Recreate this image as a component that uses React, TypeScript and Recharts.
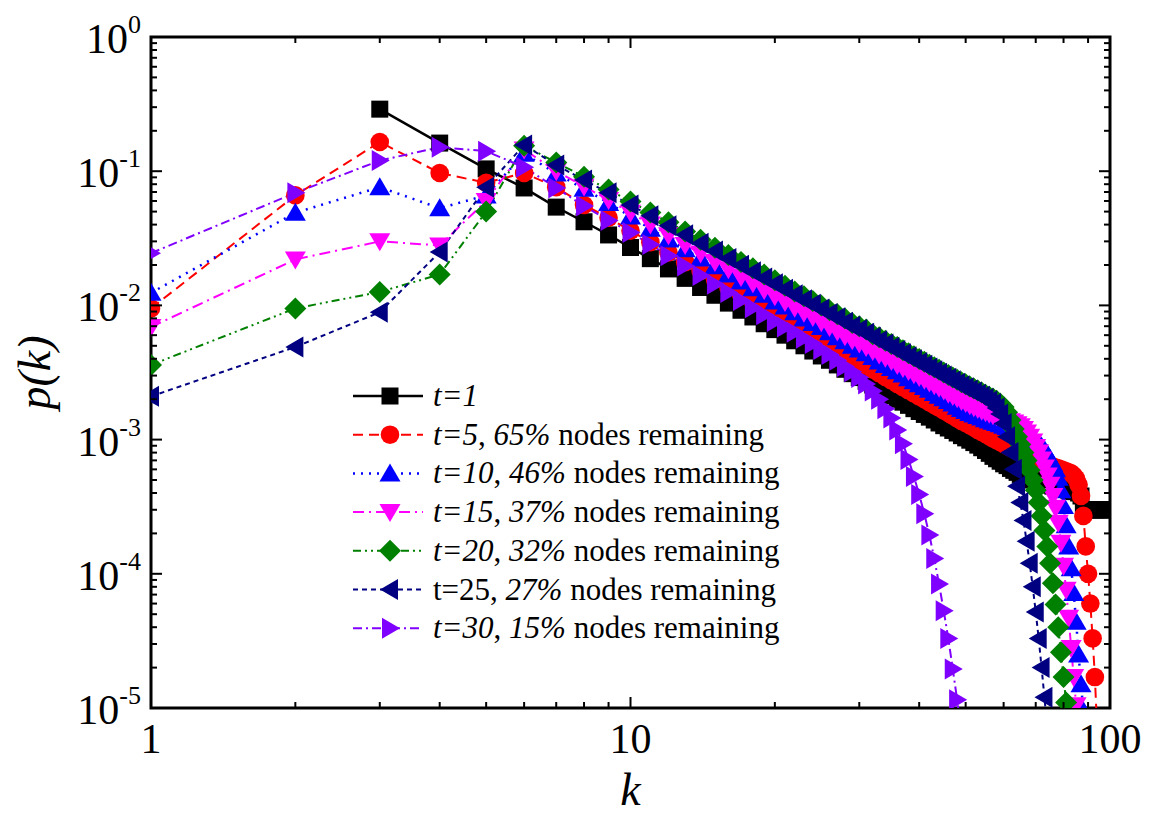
import React from 'react';
import { LineChart, Line, XAxis, YAxis, ReferenceArea, Legend } from 'recharts';

const W = 1150;
const H = 815;
const MARGIN = { top: 37, right: 40, bottom: 47, left: 71 };
const PLOT_TOP = MARGIN.top;
const PLOT_RIGHT = W - MARGIN.right;
const FONT = '"Liberation Serif", "Times New Roman", serif';

// tick positions (k and p(k))
const X_TICKS = [1, 2, 3, 4, 5, 6, 7, 8, 9, 10, 20, 30, 40, 50, 60, 70, 80, 90, 100];
const X_LABELS = [1, 10, 100];
const Y_TICKS = [
  1e-5, 2e-5, 3e-5, 4e-5, 5e-5, 6e-5, 7e-5, 8e-5, 9e-5,
  1e-4, 2e-4, 3e-4, 4e-4, 5e-4, 6e-4, 7e-4, 8e-4, 9e-4,
  1e-3, 2e-3, 3e-3, 4e-3, 5e-3, 6e-3, 7e-3, 8e-3, 9e-3,
  1e-2, 2e-2, 3e-2, 4e-2, 5e-2, 6e-2, 7e-2, 8e-2, 9e-2,
  0.1, 0.2, 0.3, 0.4, 0.5, 0.6, 0.7, 0.8, 0.9, 1,
];
const Y_LABELS = [1e-5, 1e-4, 1e-3, 1e-2, 1e-1, 1];
const Y_EXPONENTS = ['-5', '-4', '-3', '-2', '-1', '0'];

// p(k) for each snapshot, first value is at k = *_START, then k+1, k+2 ...
const T1_START = 3;
const T1 = [
  0.29, 0.162, 0.104, 0.075, 0.054, 0.042, 0.0335, 0.027,
  0.0223, 0.0187, 0.0159, 0.0136, 0.0119, 0.0104, 0.0092, 0.0082, 0.0073, 0.0066,
  0.006, 0.00545, 0.005, 0.00457, 0.0042, 0.0039, 0.0036, 0.00334, 0.0031, 0.0029,
  0.00272, 0.00255, 0.0024, 0.00225, 0.00212, 0.002, 0.0019, 0.0018, 0.0017, 0.00162,
  0.00154, 0.00147, 0.0014, 0.00133, 0.00127, 0.00122, 0.00117, 0.00112, 0.00107, 0.00103,
  0.00099, 0.00095, 0.00091, 0.00087, 0.00083, 0.00079, 0.00075, 0.00072, 0.00069, 0.00066,
  0.00064, 0.00061, 0.00059, 0.00057, 0.00055, 0.00053, 0.00052, 0.00051, 0.0005, 0.00049,
  0.00048, 0.00048, 0.00047, 0.00046, 0.00046, 0.00045, 0.00045, 0.00044, 0.00044, 0.00043,
  0.00043, 0.00042, 0.00042, 0.00041, 0.00041, 0.0004, 0.00038, 0.0003, 0.0003, 0.0003,
  0.0003, 0.0003, 0.0003, 0.0003, 0.0003, 0.0003, 0.0003, 0.0003, 0.0003, 0.0003,
];

const T5_START = 1;
const T5 = [
  0.0095, 0.066, 0.165, 0.097, 0.082, 0.097, 0.076, 0.056, 0.045, 0.036,
  0.0296, 0.0248, 0.021, 0.0181, 0.0157, 0.0137, 0.0121, 0.0108, 0.0097, 0.0087,
  0.0079, 0.00715, 0.0065, 0.006, 0.0055, 0.0051, 0.0047, 0.00436, 0.00406, 0.00379,
  0.00355, 0.00332, 0.00312, 0.00293, 0.00276, 0.0026, 0.00246, 0.00233, 0.00221, 0.0021,
  0.002, 0.0019, 0.00181, 0.00173, 0.00165, 0.00158, 0.00151, 0.00144, 0.00138, 0.00133,
  0.00128, 0.00123, 0.00118, 0.00114, 0.0011, 0.00106, 0.00102, 0.00099, 0.00096, 0.00093,
  0.0009, 0.00087, 0.00085, 0.00082, 0.0008, 0.00078, 0.00076, 0.00074, 0.00072, 0.0007,
  0.00069, 0.00067, 0.00066, 0.00065, 0.00064, 0.00063, 0.00062, 0.00061, 0.0006, 0.00059,
  0.00058, 0.00057, 0.00056, 0.00054, 0.00051, 0.00046, 0.00038, 0.00027, 0.00016, 0.0001,
  0.00006, 0.000033, 0.000017, 0.000007,
];

const T10_START = 1;
const T10 = [
  0.0124, 0.049, 0.076, 0.053, 0.066, 0.135, 0.096, 0.074, 0.058, 0.046,
  0.0372, 0.031, 0.0262, 0.0224, 0.0196, 0.017, 0.0151, 0.0134, 0.012, 0.0107,
  0.0098, 0.0089, 0.008, 0.0074, 0.0069, 0.0063, 0.0058, 0.0054, 0.005, 0.0047,
  0.0044, 0.00412, 0.00382, 0.0036, 0.00341, 0.00323, 0.00306, 0.00286, 0.00272, 0.00259,
  0.00247, 0.00235, 0.00222, 0.00212, 0.00203, 0.00194, 0.00186, 0.00176, 0.00169, 0.00163,
  0.00158, 0.00154, 0.0015, 0.00146, 0.00142, 0.00139, 0.00136, 0.00133, 0.0013, 0.00127,
  0.00124, 0.00121, 0.00118, 0.00115, 0.00112, 0.00109, 0.00106, 0.00103, 0.001, 0.00097,
  0.00093, 0.00089, 0.00084, 0.00078, 0.00072, 0.00066, 0.0006, 0.00052, 0.00042, 0.00032,
  0.00023, 0.00016, 0.00011, 0.000072, 0.000044, 0.000025, 0.000015, 0.0000095,
];

const T15_START = 1;
const T15 = [
  0.0069, 0.022, 0.03, 0.028, 0.06, 0.145, 0.1, 0.077, 0.061, 0.049,
  0.04, 0.0333, 0.0282, 0.0244, 0.0211, 0.0186, 0.0163, 0.0146, 0.013, 0.0117,
  0.0106, 0.0096, 0.0088, 0.0082, 0.0075, 0.0069, 0.0064, 0.0059, 0.0055, 0.0052,
  0.0049, 0.00458, 0.00431, 0.00407, 0.00385, 0.0036, 0.00341, 0.00324, 0.00307, 0.00293,
  0.00279, 0.00266, 0.00254, 0.00243, 0.00232, 0.0022, 0.00211, 0.00203, 0.00194, 0.00187,
  0.0018, 0.00174, 0.00169, 0.00164, 0.0016, 0.00156, 0.00152, 0.00149, 0.00146, 0.00143,
  0.0014, 0.00137, 0.00134, 0.0013, 0.00126, 0.0012, 0.00113, 0.00105, 0.00097, 0.00088,
  0.0008, 0.00071, 0.00062, 0.00054, 0.00046, 0.00038, 0.00031, 0.00024, 0.00017, 0.000115,
  0.000076, 0.000047, 0.000028, 0.000017, 0.0000105, 0.000006,
];

const T20_START = 1;
const T20 = [
  0.0036, 0.0095, 0.0126, 0.017, 0.05, 0.155, 0.116, 0.091, 0.073, 0.0594,
  0.0493, 0.0416, 0.0356, 0.0308, 0.0269, 0.0237, 0.0211, 0.0189, 0.017, 0.0154,
  0.014, 0.0127, 0.0117, 0.0108, 0.01, 0.0092, 0.0086, 0.008, 0.0074, 0.007,
  0.0066, 0.0061, 0.0058, 0.00546, 0.00516, 0.00489, 0.00463, 0.0044, 0.00418, 0.00398,
  0.0038, 0.00361, 0.00346, 0.00331, 0.00316, 0.00303, 0.0029, 0.00279, 0.00267, 0.00258,
  0.00249, 0.0024, 0.00232, 0.00224, 0.00216, 0.00209, 0.00202, 0.00195, 0.00186, 0.00175,
  0.0016, 0.0014, 0.0012, 0.00105, 0.00092, 0.0008, 0.0007, 0.00059, 0.0005, 0.00042,
  0.00034, 0.00027, 0.00021, 0.00016, 0.00012, 0.000085, 0.000059, 0.00004, 0.000026, 0.000017,
  0.000011, 0.000007,
];

const T25_START = 1;
const T25 = [
  0.0021, 0.0049, 0.0089, 0.025, 0.076, 0.157, 0.111, 0.086, 0.069, 0.056,
  0.0465, 0.0392, 0.0336, 0.0291, 0.0254, 0.0224, 0.0199, 0.0178, 0.016, 0.0145,
  0.0132, 0.012, 0.011, 0.0102, 0.0094, 0.0087, 0.0081, 0.0075, 0.007, 0.0066,
  0.0062, 0.0058, 0.00546, 0.00515, 0.00487, 0.00461, 0.00437, 0.00415, 0.00394, 0.00375,
  0.00358, 0.00341, 0.00326, 0.00312, 0.00298, 0.00286, 0.00274, 0.00263, 0.00252, 0.00243,
  0.00234, 0.00226, 0.00218, 0.0021, 0.00202, 0.00194, 0.00185, 0.00172, 0.00155, 0.00132,
  0.00105, 0.0008, 0.0006, 0.00045, 0.00034, 0.00025, 0.000175, 0.00012, 0.00008, 0.000052,
  0.000033, 0.00002, 0.000012, 0.000007,
];

const T30_START = 1;
const T30 = [
  0.0245, 0.069, 0.12, 0.151, 0.141, 0.107, 0.075, 0.055, 0.043, 0.035,
  0.0284, 0.0234, 0.0197, 0.0167, 0.0144, 0.0125, 0.0109, 0.0096, 0.0085, 0.0076,
  0.0069, 0.0063, 0.0057, 0.0052, 0.0047, 0.0043, 0.0039, 0.0035, 0.0032, 0.0029,
  0.0026, 0.0023, 0.002, 0.0017, 0.00145, 0.00118, 0.00093, 0.00071, 0.00053, 0.00039,
  0.00028, 0.000195, 0.00013, 0.000084, 0.000053, 0.000033, 0.0000195, 0.0000115, 0.0000065,
];

type Part = [string, boolean];
type Shape = 'square' | 'circle' | 'up' | 'down' | 'diamond' | 'left' | 'right';

const toPoints = (start: number, values: number[]) =>
  values.map((p, i) => ({ k: start + i, p }));

const SERIES: {
  id: string;
  points: { k: number; p: number }[];
  color: string;
  dash?: string;
  width: number;
  shape: Shape;
  label: Part[];
}[] = [
  { id: 't1', points: toPoints(T1_START, T1), color: '#000000', width: 2.5, shape: 'square',
    label: [['t=1', true]] },
  { id: 't5', points: toPoints(T5_START, T5), color: '#FF0000', dash: '10 6', width: 2, shape: 'circle',
    label: [['t=5', true], [', ', false], ['65%', true], [' nodes remaining', false]] },
  { id: 't10', points: toPoints(T10_START, T10), color: '#0000FF', dash: '2 6', width: 2.5, shape: 'up',
    label: [['t=10', true], [', ', false], ['46%', true], [' nodes remaining', false]] },
  { id: 't15', points: toPoints(T15_START, T15), color: '#FF00FF', dash: '11 5 2 5', width: 2, shape: 'down',
    label: [['t=15', true], [', ', false], ['37%', true], [' nodes remaining', false]] },
  { id: 't20', points: toPoints(T20_START, T20), color: '#008000', dash: '8 4 2 4 2 4', width: 2, shape: 'diamond',
    label: [['t=20', true], [', ', false], ['32%', true], [' nodes remaining', false]] },
  { id: 't25', points: toPoints(T25_START, T25), color: '#000080', dash: '5 4', width: 2, shape: 'left',
    label: [['t=25', false], [', ', false], ['27%', true], [' nodes remaining', false]] },
  { id: 't30', points: toPoints(T30_START, T30), color: '#8000FF', dash: '9 4 2 4', width: 2, shape: 'right',
    label: [['t=30', true], [', ', false], ['15%', true], [' nodes remaining', false]] },
];

function Marker({ shape, cx, cy, color }: { shape: Shape; cx: number; cy: number; color: string }) {
  switch (shape) {
    case 'square':
      return <rect x={cx - 8.5} y={cy - 8.5} width={17} height={17} fill={color} />;
    case 'circle':
      return <circle cx={cx} cy={cy} r={9.3} fill={color} />;
    case 'up':
      return <polygon points={`${cx},${cy - 10} ${cx + 10.5},${cy + 8} ${cx - 10.5},${cy + 8}`} fill={color} />;
    case 'down':
      return <polygon points={`${cx},${cy + 10} ${cx + 10.5},${cy - 8} ${cx - 10.5},${cy - 8}`} fill={color} />;
    case 'diamond':
      return <polygon points={`${cx},${cy - 11} ${cx + 11},${cy} ${cx},${cy + 11} ${cx - 11},${cy}`} fill={color} />;
    case 'left':
      return <polygon points={`${cx - 10},${cy} ${cx + 8},${cy - 10.5} ${cx + 8},${cy + 10.5}`} fill={color} />;
    case 'right':
      return <polygon points={`${cx + 10},${cy} ${cx - 8},${cy - 10.5} ${cx - 8},${cy + 10.5}`} fill={color} />;
  }
  return null;
}

const XTick = (props: any) => {
  const { x, y, payload } = props;
  const v = payload.value;
  const major = X_LABELS.includes(v);
  const len = major ? 11 : 6;
  return (
    <g>
      <line x1={x} y1={y} x2={x} y2={y - len} stroke="#000" strokeWidth={2} />
      <line x1={x} y1={PLOT_TOP} x2={x} y2={PLOT_TOP + len} stroke="#000" strokeWidth={2} />
      {major && (
        <text x={x} y={y + 45} textAnchor="middle" fontFamily={FONT} fontSize={42} fill="#000">
          {v}
        </text>
      )}
    </g>
  );
};

const YTick = (props: any) => {
  const { x, y, payload } = props;
  const v = payload.value;
  const idx = Y_LABELS.findIndex((l) => Math.abs(l - v) / l < 1e-6);
  const major = idx >= 0;
  const len = major ? 11 : 6;
  return (
    <g>
      <line x1={x} y1={y} x2={x + len} y2={y} stroke="#000" strokeWidth={2} />
      <line x1={PLOT_RIGHT} y1={y} x2={PLOT_RIGHT - len} y2={y} stroke="#000" strokeWidth={2} />
      {major && (
        <text x={x - 10} y={y + 16} textAnchor="end" fontFamily={FONT} fontSize={42} fill="#000">
          <tspan>10</tspan>
          <tspan dy={-20} fontSize={26}>{Y_EXPONENTS[idx]}</tspan>
        </text>
      )}
    </g>
  );
};

const LegendBox = () => {
  const rowGap = 38.7;
  return (
    <svg width={470} height={290}>
      {SERIES.map((s, i) => {
        const cy = 24 + i * rowGap;
        return (
          <g key={s.id}>
            <line x1={3} y1={cy} x2={73} y2={cy} stroke={s.color} strokeWidth={s.width}
              strokeDasharray={s.dash} />
            <Marker shape={s.shape} cx={40} cy={cy} color={s.color} />
            <text x={83} y={cy + 10} fontFamily={FONT} fontSize={31} fill="#000" style={{ whiteSpace: 'pre' }}>
              {s.label.map(([t, it], j) => (
                <tspan key={j} fontStyle={it ? 'italic' : 'normal'}>{t}</tspan>
              ))}
            </text>
          </g>
        );
      })}
    </svg>
  );
};

export default function App() {
  return (
    <div style={{ position: 'absolute', left: 0, top: 0, width: W, height: H, background: '#fff' }}>
      <LineChart width={W} height={H} margin={MARGIN}>
        <XAxis
          type="number"
          dataKey="k"
          scale="log"
          domain={[1, 100]}
          allowDataOverflow
          ticks={X_TICKS}
          interval={0}
          tickSize={0}
          tickMargin={0}
          tickLine={false}
          axisLine={false}
          height={60}
          tick={<XTick />}
          label={{
            content: (p: any) => {
              const vb = p.viewBox || { x: 151, y: 708, width: 959 };
              return (
                <text x={vb.x + vb.width / 2} y={805} textAnchor="middle" fontFamily={FONT}
                  fontSize={46} fontStyle="italic" fill="#000">k</text>
              );
            },
          }}
        />
        <YAxis
          type="number"
          dataKey="p"
          scale="log"
          domain={[1e-5, 1]}
          allowDataOverflow
          ticks={Y_TICKS}
          interval={0}
          tickSize={0}
          tickMargin={0}
          tickLine={false}
          axisLine={false}
          width={80}
          tick={<YTick />}
          label={{
            content: (p: any) => {
              const vb = p.viewBox || { x: 71, y: 37, height: 671 };
              const cy = vb.y + vb.height / 2;
              return (
                <text x={50} y={cy} transform={`rotate(-90 50 ${cy})`} textAnchor="middle"
                  fontFamily={FONT} fontSize={46} fontStyle="italic" fill="#000">p(k)</text>
              );
            },
          }}
        />
        {SERIES.map((s) => (
          <Line
            key={s.id}
            name={s.id}
            data={s.points}
            dataKey="p"
            type="linear"
            stroke={s.color}
            strokeWidth={s.width}
            strokeDasharray={s.dash}
            isAnimationActive={false}
            activeDot={false}
            dot={(props: any) =>
              props.cx == null || props.cy == null ? (
                <g key={props.index} />
              ) : (
                <Marker key={props.index} shape={s.shape} cx={props.cx} cy={props.cy} color={s.color} />
              )
            }
          />
        ))}
        <ReferenceArea x1={1} x2={100} y1={1e-5} y2={1} fill="none" stroke="#000" strokeWidth={3} />
        <Legend
          layout="vertical"
          align="center"
          verticalAlign="middle"
          wrapperStyle={{ left: 350, top: 372, width: 470, height: 290 }}
          content={() => <LegendBox />}
        />
      </LineChart>
    </div>
  );
}
